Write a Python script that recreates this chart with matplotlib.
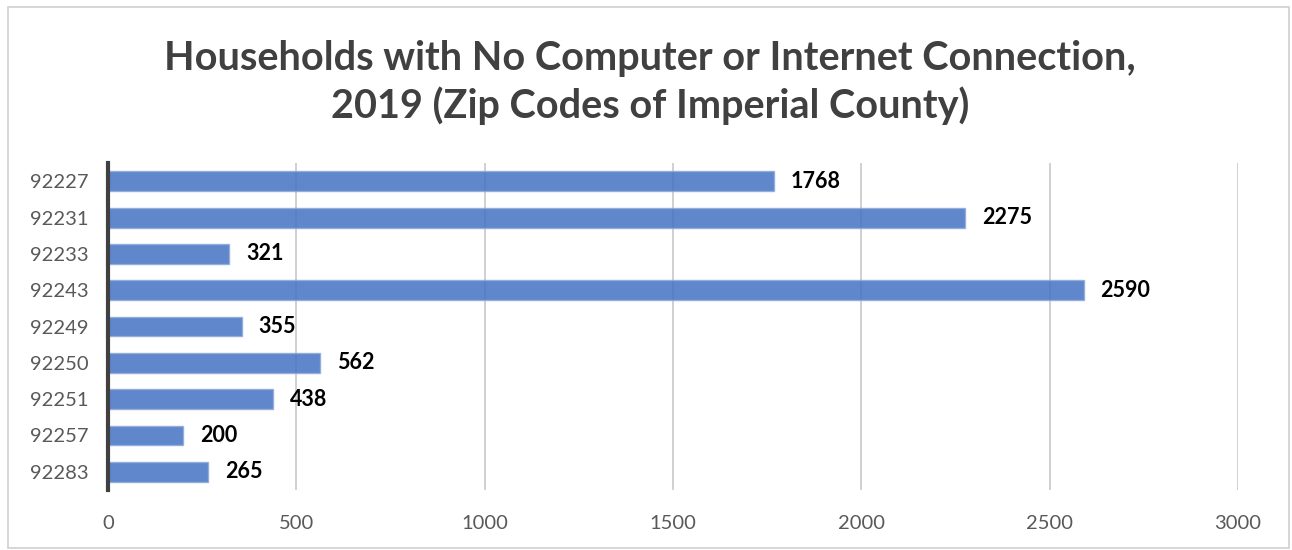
import matplotlib.pyplot as plt
from matplotlib.patches import Rectangle

# zip codes and households with no computer/internet
zips = ['92227', '92231', '92233', '92243', '92249', '92250', '92251', '92257', '92283']
households = [1768, 2275, 321, 2590, 355, 562, 438, 200, 265]
xticks = [0, 500, 1000, 1500, 2000, 2500, 3000]

plt.rcParams['font.family'] = ['Lato', 'DejaVu Sans']

fig = plt.figure(figsize=(12.92, 5.5), dpi=100)
ax = fig.add_axes([0.0836, 0.1091, 0.8746, 0.5945])

# outer frame like the excel chart border
fig.patches.append(Rectangle((0.006, 0.003), 0.992, 0.984, transform=fig.transFigure,
                             fill=False, edgecolor='#d0d0d0', linewidth=1.2))

pos = list(range(len(zips)))
ax.barh(pos, households, height=0.55, color='#4472C4', alpha=0.85,
        edgecolor='#8eaadb', linewidth=1, zorder=3)

for p, v in zip(pos, households):
    ax.text(v + 45, p, str(v), va='center', ha='left', fontsize=15.5,
            fontweight='bold', color='black', zorder=4)

ax.set_ylim(len(zips) - 0.5, -0.5)
ax.set_xlim(0, 3000)
ax.set_yticks(pos)
ax.set_yticklabels(zips)
ax.set_xticks(xticks)
ax.set_xticklabels([str(t) for t in xticks])
ax.tick_params(axis='both', length=0, labelsize=14.5, labelcolor='#595959')
ax.tick_params(axis='x', pad=18)
ax.tick_params(axis='y', pad=14)

ax.grid(axis='x', color='#c8c8c8', linewidth=1.2, zorder=0)
for s in ['top', 'right', 'bottom']:
    ax.spines[s].set_visible(False)
ax.spines['left'].set_color('#404040')
ax.spines['left'].set_linewidth(3)
ax.spines['left'].set_zorder(5)

fig.text(0.503, 0.85, 'Households with No Computer or Internet Connection,\n2019 (Zip Codes of Imperial County)',
         ha='center', va='center', fontsize=28.5, fontweight='bold', color='#404040',
         linespacing=1.3)

fig.savefig('out.png', dpi=100)
